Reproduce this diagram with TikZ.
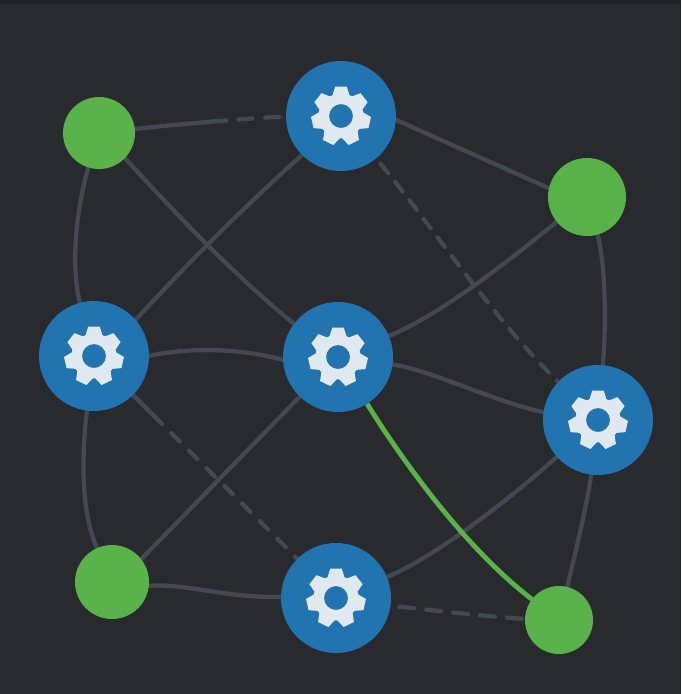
\documentclass[tikz,border=0pt]{standalone}
\definecolor{bgc}{HTML}{292A2E}
\definecolor{topc}{HTML}{202122}
\definecolor{linec}{HTML}{444850}
\definecolor{bluec}{HTML}{2274B1}
\definecolor{greenc}{HTML}{5AB24B}
\definecolor{gearc}{HTML}{DFE9EF}
\pgfdeclarelayer{backdrop}
\pgfdeclarelayer{edges}
\pgfsetlayers{backdrop,edges,main}
\tikzset{
  hub/.style={circle,fill=bluec,minimum size=110pt,inner sep=0pt,outer sep=0pt},
  leaf/.style={circle,fill=greenc,inner sep=0pt,outer sep=0pt},
  link/.style={draw=linec,line width=4.3pt,line cap=round},
  hilite/.style={draw=greenc,line width=4.8pt},
  gear/.pic={
    \fill[gearc,even odd rule] (-112:22.5)
      \foreach \a in {-90,-38.57,12.86,64.29,115.71,167.14,218.57}{
        -- ({\a-11}:30) -- ({\a+11}:30) -- ({\a+22}:22.5) -- ({\a+29.43}:22.5)
      } -- cycle (0,0) circle[radius=12];
  }
}
\begin{document}
\begin{tikzpicture}[x=1pt,y=-1pt]
\useasboundingbox (0,0) rectangle (681,694);
\begin{pgfonlayer}{backdrop}
\fill[bgc] (0,0) rectangle (681,694);
\fill[topc] (0,0) rectangle (681,4);
\end{pgfonlayer}
\node[leaf,minimum size=72pt] (g1) at (99,133) {};
\node[hub] (b1) at (341,116) {};
\node[leaf,minimum size=78pt] (g2) at (587,197) {};
\node[hub] (b2) at (94,356) {};
\node[hub] (b3) at (338,357) {};
\node[hub] (b4) at (598,420) {};
\node[leaf,minimum size=74pt] (g3) at (112,582) {};
\node[hub] (b5) at (336,598) {};
\node[leaf,minimum size=68pt] (g4) at (559,620) {};
\begin{pgfonlayer}{edges}
\draw[link,dash pattern=on 92pt off 12pt on 14pt off 13pt on 14pt off 30pt] (g1) .. controls (170,125) and (260,117) .. (b1);
\draw[link] (g1) .. controls (77,205) and (70,265) .. (b2);
\draw[link] (g1.-44) .. controls (176,214) and (233,274) .. (b3.143);
\draw[link] (b1.225) .. controls (244,207) and (189,262) .. (b2.41);
\draw[link] (b1.-4) -- (g2.167);
\draw[link,dash pattern=on 12pt off 11.3pt,shorten <=7pt] (b1) .. controls (428,221) and (495,321) .. (b4);
\draw[link] (g2) .. controls (510,260) and (440,315) .. (b3);
\draw[link] (g2) .. controls (606,265) and (606,330) .. (b4);
\draw[link] (b2.0) .. controls (185,348) and (235,347) .. (b3.183);
\draw[link] (b3.-8) .. controls (425,368) and (490,400) .. (b4.172);
\draw[link] (b2) .. controls (82,450) and (80,510) .. (g3);
\draw[link,dash pattern=on 41pt off 13pt on 12pt off 13pt on 12pt off 13pt on 12pt off 13pt on 12pt off 13pt on 12pt off 13pt on 12pt off 13pt on 12pt off 13pt on 12pt off 13pt] (b2) .. controls (170,432) and (255,516) .. (b5);
\draw[link] (b3.226.5) -- (g3.38.7);
\draw[link] (b4) .. controls (520,490) and (440,555) .. (b5);
\draw[link] (b4) .. controls (588,500) and (575,555) .. (g4);
\draw[link] (g3.-6) .. controls (185,583) and (225,598) .. (b5.179);
\draw[link,dash pattern=on 15pt off 12pt,shorten <=9pt] (b5.-8) .. controls (440,611) and (490,617) .. (g4.178);
\draw[hilite] (b3) .. controls (402,460) and (465,548) .. (g4);
\end{pgfonlayer}
\pic at (b1) {gear};
\pic at (b2) {gear};
\pic at (b3) {gear};
\pic at (b4) {gear};
\pic at (b5) {gear};
\end{tikzpicture}
\end{document}
